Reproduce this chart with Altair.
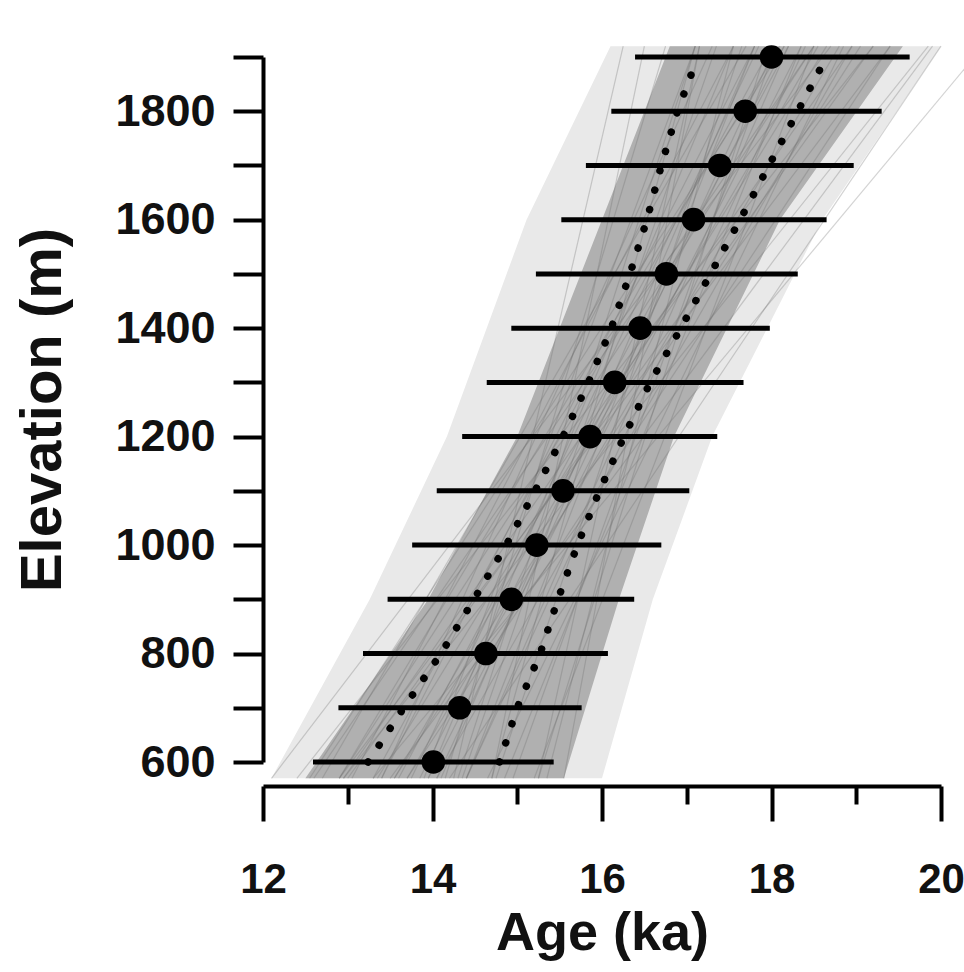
import altair as alt
import pandas as pd

# ---- data ----
elev = [600, 700, 800, 900, 1000, 1100, 1200, 1300, 1400, 1500, 1600, 1700, 1800, 1900]
age = [14.01, 14.32, 14.63, 14.93, 15.23, 15.54, 15.86, 16.15, 16.45, 16.76, 17.08, 17.39, 17.69, 18.00]
age_lo = [12.59, 12.89, 13.18, 13.47, 13.76, 14.05, 14.35, 14.64, 14.93, 15.22, 15.52, 15.81, 16.11, 16.39]
age_hi = [15.43, 15.76, 16.07, 16.38, 16.70, 17.03, 17.36, 17.67, 17.98, 18.31, 18.65, 18.97, 19.30, 19.63]

# dotted confidence limits
ci_left = [13.24, 13.66, 14.10, 14.49, 14.87, 15.21, 15.54, 15.84, 16.11, 16.33, 16.53, 16.70, 16.89, 17.13]
ci_right = [14.79, 15.00, 15.27, 15.48, 15.71, 15.97, 16.26, 16.57, 16.93, 17.28, 17.63, 17.97, 18.31, 18.65]

# grey band of Monte Carlo fits: outer envelope and dense core
band_elev = [570, 900, 1200, 1600, 1920]
env_left = [12.10, 13.26, 14.17, 15.11, 16.10]
env_right = [16.00, 16.60, 17.30, 18.60, 20.00]
core_left = [12.50, 13.95, 15.00, 16.00, 16.80]
core_right = [15.55, 16.20, 16.85, 18.10, 19.55]

# individual fit lines: age at the bottom / top of the band
mc_elev_range = [570, 1920]
mc_bottom = [13.05, 13.90, 12.90, 14.70, 13.00, 14.40, 14.05, 12.10, 14.70, 13.75,
             13.35, 14.75, 12.95, 14.85, 12.70, 14.15, 13.95, 12.95, 13.95, 15.55,
             13.70, 14.65, 13.40, 13.30, 14.35, 14.05, 13.70, 15.35, 12.60, 13.50,
             14.25, 15.20, 13.60, 14.40, 14.30, 13.55, 13.85, 12.40, 15.25, 13.40,
             14.40, 12.90, 15.25, 14.10, 12.90, 12.55, 14.95, 13.55, 13.30, 14.20]
mc_top = [17.55, 17.10, 18.50, 17.10, 19.20, 18.20, 18.95, 18.70, 16.50, 17.85,
          18.65, 17.65, 19.85, 18.35, 17.70, 16.75, 17.55, 18.95, 18.35, 17.15,
          19.40, 18.85, 17.30, 18.00, 17.35, 18.05, 18.80, 17.55, 18.50, 19.90,
          16.25, 18.50, 18.20, 17.80, 17.10, 19.05, 18.15, 19.20, 17.15, 17.80,
          18.40, 18.10, 17.95, 17.80, 19.40, 18.15, 18.05, 18.55, 20.50, 20.00]

# ---- tables ----
pts = pd.DataFrame({"elev": elev, "age": age, "lo": age_lo, "hi": age_hi})
ci = pd.DataFrame({
    "elev": elev + elev,
    "x": ci_left + ci_right,
    "side": ["left"] * len(elev) + ["right"] * len(elev),
})
band = pd.DataFrame({"elev": band_elev, "el": env_left, "er": env_right,
                     "cl": core_left, "cr": core_right})
mc = pd.DataFrame({"xb": mc_bottom, "xt": mc_top,
                   "eb": [mc_elev_range[0]] * len(mc_bottom),
                   "et": [mc_elev_range[1]] * len(mc_bottom)})

FONT = "Liberation Sans"
xs = alt.Scale(domain=[12, 20], nice=False, zero=False)
ys = alt.Scale(domain=[600, 1900], nice=False, zero=False)

x_axis = alt.Axis(
    title="Age (ka)", values=list(range(12, 21)), format="d",
    labelExpr="datum.value % 2 == 0 ? datum.label : ''",
    offset=24, domainWidth=4, tickWidth=4, domainColor="black", tickColor="black",
    tickSize={"condition": {"test": "datum.value % 2 == 0", "value": 35}, "value": 18},
    labelFont=FONT, labelFontSize=42, labelFontWeight="bold", labelColor="#111",
    labelPadding=38, labelFlush=False, labelOverlap=False, grid=False,
    titleFont=FONT, titleFontSize=54, titleFontWeight="bold", titleColor="#111",
    titlePadding=6,
)
y_axis = alt.Axis(
    title="Elevation (m)", values=list(range(600, 2000, 100)), format="d",
    labelExpr="datum.value % 200 == 0 ? datum.label : ''",
    domainWidth=4, tickWidth=4, tickSize=30, domainColor="black", tickColor="black",
    labelFont=FONT, labelFontSize=45, labelFontWeight="bold", labelColor="#111",
    labelPadding=18, labelFlush=False, labelOverlap=False, grid=False,
    titleFont=FONT, titleFontSize=58, titleFontWeight="bold", titleColor="#111",
    titlePadding=42,
)


def X(field):
    return alt.X(field, scale=xs, axis=x_axis)


def Y(field):
    return alt.Y(field, scale=ys, axis=y_axis)


env = alt.Chart(band).mark_area(orient="horizontal", color="#e9e9e9").encode(
    y=Y("elev:Q"), x=X("el:Q"), x2="er:Q",
)
core = alt.Chart(band).mark_area(orient="horizontal", color="#b0b0b0").encode(
    y=Y("elev:Q"), x=X("cl:Q"), x2="cr:Q",
)
lines = alt.Chart(mc).mark_rule(color="#6e6e6e", opacity=0.3, strokeWidth=1.2).encode(
    x=X("xb:Q"), x2="xt:Q", y=Y("eb:Q"), y2="et:Q",
)
dots = alt.Chart(ci).mark_line(color="black", strokeWidth=7.5, strokeCap="round",
                               strokeDash=[0.1, 20]).encode(
    x=X("x:Q"), y=Y("elev:Q"), detail="side:N", order="elev:Q",
)
bars = alt.Chart(pts).mark_rule(color="black", strokeWidth=5).encode(
    x=X("lo:Q"), x2="hi:Q", y=Y("elev:Q"),
)
points = alt.Chart(pts).mark_circle(color="black", opacity=1, size=560).encode(
    x=X("age:Q"), y=Y("elev:Q"),
)

chart = alt.layer(env, core, lines, dots, bars, points).properties(
    width=678, height=705,
    padding={"left": 263, "top": 57, "right": 23, "bottom": 210},
    autosize=alt.AutoSizeParams(type="none"),
    background="white",
).configure_view(stroke=None)

chart.save("out.html", embed_options={"renderer": "svg", "actions": False})
